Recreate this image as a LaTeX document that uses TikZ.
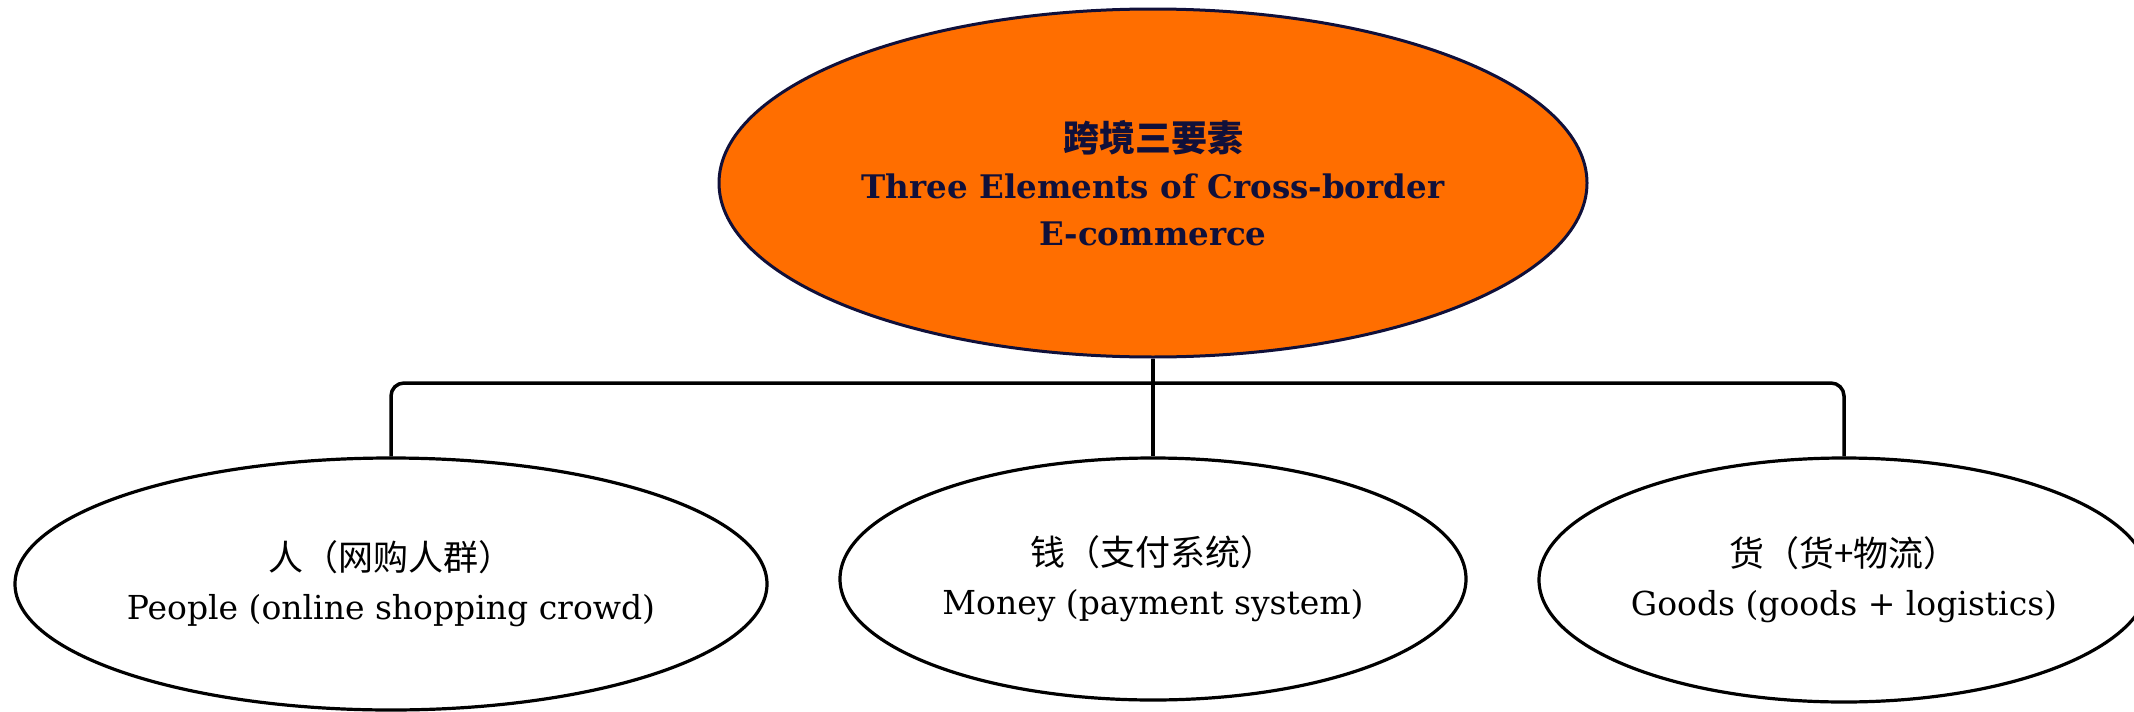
\documentclass[tikz,border=0pt]{standalone}
\usepackage{fontspec}
\setmainfont{DejaVu Serif}
\newfontfamily\cjk{Noto Sans CJK SC}
\usetikzlibrary{shapes.geometric}
\definecolor{topfill}{HTML}{FF6E00}
\definecolor{topink}{HTML}{10103A}

\begin{document}
\begin{tikzpicture}[x=1pt, y=-1pt,
  elem/.style={ellipse, draw=black, line width=3.2pt, fill=white, inner sep=0pt,
    align=center, font=\fontsize{33}{49}\selectfont},
  topelem/.style={elem, line width=3pt, draw=topink, fill=topfill, text=topink,
    font=\fontsize{32.5}{47}\selectfont\bfseries},
  link/.style={line width=3.5pt}]
  \useasboundingbox (0,0) rectangle (2134,712);

  \node[topelem, minimum width=868pt, minimum height=348pt] (elements) at (1153,183)
    {{\cjk\fontsize{36}{47}\selectfont 跨境三要素}\\Three Elements of Cross-border\\E-commerce};

  \node[elem, minimum width=752pt, minimum height=252pt] (people) at (391,584)
    {{\cjk\fontsize{35}{49}\selectfont 人（网购人群）}\\People (online shopping crowd)};
  \node[elem, minimum width=626pt, minimum height=242pt] (money) at (1153,579)
    {{\cjk\fontsize{35}{49}\selectfont 钱（支付系统）}\\Money (payment system)};
  \node[elem, minimum width=610pt, minimum height=244pt] (goods) at (1844,580)
    {{\cjk\fontsize{35}{49}\selectfont 货（货+物流）}\\Goods (goods + logistics)};

  \coordinate (bar) at (1153,383);
  \draw[link] (elements.south) -- (money.north);
  \draw[link, rounded corners=13pt] (people.north) -- (people.north |- bar)
    -- (goods.north |- bar) -- (goods.north);
\end{tikzpicture}
\end{document}
